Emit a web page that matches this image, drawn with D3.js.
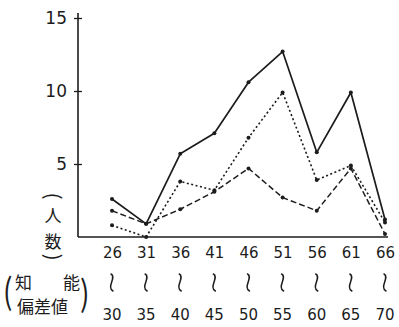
<!DOCTYPE html>
<html><head><meta charset="utf-8">
<script src="https://cdn.jsdelivr.net/npm/d3@7"></script>
<style>
html,body{margin:0;padding:0;background:#fff;}
svg{display:block;}
text{fill:#1c1c1c;}
</style></head>
<body>
<script>
const categories = ["26","31","36","41","46","51","56","61","66"];
const upperLabels = ["30","35","40","45","50","55","60","65","70"];
const yTicks = [5, 10, 15];
const solidSeries  = [2.6, 0.9, 5.7, 7.1, 10.6, 12.7, 5.8, 9.9, 1.2];
const dottedSeries = [0.8, 0.0, 3.8, 3.2, 6.8, 9.9, 3.9, 4.9, 1.0];
const dashedSeries = [1.8, 0.9, 1.9, 3.1, 4.7, 2.7, 1.8, 4.7, 0.2];

const W = 399, H = 327;
const ink = "#1c1c1c";
const svg = d3.select("body").append("svg").attr("width", W).attr("height", H);

const x = d3.scalePoint().domain(categories).range([112, 385]);
const y = d3.scaleLinear().domain([0, 15]).range([237, 18]);
const axisX = 78;

// Y axis
const yAxis = d3.axisLeft(y).tickValues(yTicks).tickSizeInner(4).tickSizeOuter(0).tickPadding(6);
const gy = svg.append("g").attr("transform", `translate(${axisX},0)`).call(yAxis);
gy.select(".domain").remove();
gy.selectAll(".tick line").attr("x1", -4).attr("x2", 4).attr("stroke", ink).attr("stroke-width", 1.3);
gy.selectAll(".tick text").attr("font-family", "DejaVu Sans, sans-serif").attr("font-size", 17).attr("dx", -1);
svg.append("line").attr("x1", axisX).attr("x2", axisX).attr("y1", y(15) - 5).attr("y2", y(0))
  .attr("stroke", ink).attr("stroke-width", 1.6);

// X axis
const xAxis = d3.axisBottom(x).tickSize(0).tickPadding(10);
const gx = svg.append("g").attr("transform", `translate(0,${y(0)})`).call(xAxis);
gx.select(".domain").remove();
gx.selectAll(".tick text").attr("font-family", "DejaVu Sans, sans-serif").attr("font-size", 15);
svg.append("line").attr("x1", axisX).attr("x2", x("66") + 3).attr("y1", y(0)).attr("y2", y(0))
  .attr("stroke", ink).attr("stroke-width", 1.6);

// wavy "≀" range separators (drawn as small S-curves) and upper labels
const g2 = svg.append("g");
categories.forEach((c, i) => {
  const cx = x(c);
  g2.append("path")
    .attr("d", `M${cx - 1},274 C${cx + 5},277 ${cx - 6},287 ${cx + 1},291`)
    .attr("fill", "none").attr("stroke", ink).attr("stroke-width", 1.5).attr("stroke-linecap", "round");
  g2.append("text").attr("x", cx).attr("y", 320).attr("text-anchor", "middle")
    .attr("font-family", "DejaVu Sans, sans-serif").attr("font-size", 15).text(upperLabels[i]);
});

// Lines
const line = d3.line().x((d, i) => x(categories[i])).y(d => y(d));
function drawSeries(data, dash, w) {
  svg.append("path").datum(data).attr("d", line).attr("fill", "none")
    .attr("stroke", ink).attr("stroke-width", w).attr("stroke-dasharray", dash)
    .attr("stroke-linejoin", "round");
  svg.append("g").selectAll("circle").data(data).join("circle")
    .attr("cx", (d, i) => x(categories[i])).attr("cy", d => y(d)).attr("r", 2).attr("fill", ink);
}
drawSeries(dashedSeries, "6,3", 1.5);
drawSeries(dottedSeries, "2,2.5", 1.6);
drawSeries(solidSeries, null, 1.7);

// Y axis label (vertical)
const jp = "Noto Sans CJK JP, sans-serif";
const yl = svg.append("g").attr("font-family", jp);
yl.append("text").attr("transform", "translate(53,196) rotate(90)").attr("text-anchor", "middle").attr("dy", "0.35em").attr("font-size", 20).text("(");
yl.append("text").attr("x", 53).attr("y", 222).attr("text-anchor", "middle").attr("font-size", 17).text("人");
yl.append("text").attr("x", 53).attr("y", 248).attr("text-anchor", "middle").attr("font-size", 17).text("数");
yl.append("text").attr("transform", "translate(53,257) rotate(90)").attr("text-anchor", "middle").attr("dy", "0.35em").attr("font-size", 20).text(")");

// Bottom-left label
const bl = svg.append("g").attr("font-family", jp);
bl.append("text").attr("transform", "translate(3,304) scale(1,1.25)").attr("font-size", 28).text("(");
bl.append("text").attr("x", 15).attr("y", 289).attr("font-size", 17).text("知");
bl.append("text").attr("x", 63).attr("y", 289).attr("font-size", 17).text("能");
bl.append("text").attr("x", 17).attr("y", 313).attr("font-size", 17).text("偏差値");
bl.append("text").attr("transform", "translate(80,306) scale(1,1.25)").attr("font-size", 28).text(")");
</script>
</body></html>
